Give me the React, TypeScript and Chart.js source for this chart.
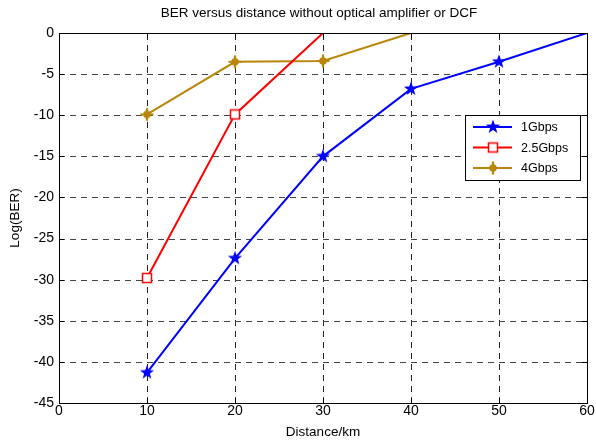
import React, { useEffect, useRef } from "react";
import { Chart, registerables } from "chart.js";

Chart.register(...registerables);

const distances = [0, 10, 20, 30, 40, 50, 60];
const seriesNames = ["1Gbps", "2.5Gbps", "4Gbps"];
const ber1G = [null, -41.3, -27.4, -15.0, -6.8, -3.5, 0];
const ber25G = [null, -29.8, -9.9, 0, null, null, null];
const ber4G = [null, -9.9, -3.5, -3.4, 0, null, null];
const seriesColors = ["#0000ff", "#ff0000", "#b8860b"];
const chartTitle = "BER versus distance without optical amplifier or DCF";
const xTitle = "Distance/km";
const yTitle = "Log(BER)";

const FONT = "'Liberation Sans', Arial, sans-serif";

function makeMarker(kind: string, color: string): HTMLCanvasElement {
  const c = document.createElement("canvas");
  const s = 16;
  c.width = s;
  c.height = s;
  const ctx = c.getContext("2d")!;
  const cx = s / 2, cy = s / 2;
  if (kind === "pentagram") {
    ctx.beginPath();
    const R = 7.5, r = 3.0;
    for (let i = 0; i < 10; i++) {
      const a = -Math.PI / 2 + (i * Math.PI) / 5;
      const rad = i % 2 === 0 ? R : r;
      const x = cx + rad * Math.cos(a), y = cy + rad * Math.sin(a);
      if (i === 0) ctx.moveTo(x, y); else ctx.lineTo(x, y);
    }
    ctx.closePath();
    ctx.fillStyle = color;
    ctx.fill();
  } else if (kind === "square") {
    ctx.strokeStyle = color;
    ctx.lineWidth = 1.5;
    ctx.fillStyle = "#ffffff";
    ctx.fillRect(cx - 4.5, cy - 4.5, 9, 9);
    ctx.strokeRect(cx - 4.5, cy - 4.5, 9, 9);
  } else {
    ctx.fillStyle = color;
    ctx.beginPath();
    ctx.arc(cx, cy, 3.8, 0, Math.PI * 2);
    ctx.fill();
    ctx.strokeStyle = color;
    ctx.lineWidth = 2.2;
    ctx.beginPath();
    ctx.moveTo(cx, cy - 6.5); ctx.lineTo(cx, cy + 6.5);
    ctx.moveTo(cx - 6.5, cy); ctx.lineTo(cx + 6.5, cy);
    ctx.stroke();
  }
  return c;
}

export default function App() {
  const ref = useRef<HTMLCanvasElement | null>(null);

  useEffect(() => {
    document.body.style.margin = "0";
    const canvas = ref.current!;
    const markers = [
      makeMarker("pentagram", seriesColors[0]),
      makeMarker("square", seriesColors[1]),
      makeMarker("blob", seriesColors[2]),
    ];
    const data = [ber1G, ber25G, ber4G];

    const gridPlugin = {
      id: "dashgrid",
      beforeDatasetsDraw(chart: any) {
        const ctx = chart.ctx;
        const a = chart.chartArea;
        const xs = chart.scales.x, ys = chart.scales.y;
        ctx.save();
        ctx.lineWidth = 1;
        ctx.setLineDash([6, 5]);
        ctx.strokeStyle = "#222";
        ctx.beginPath();
        xs.ticks.forEach((t: any) => {
          const px = Math.round(xs.getPixelForValue(t.value)) + 0.5;
          ctx.moveTo(px, a.bottom); ctx.lineTo(px, a.top);
        });
        ctx.stroke();
        ctx.strokeStyle = "#444";
        ctx.beginPath();
        ys.ticks.forEach((t: any) => {
          const py = Math.round(ys.getPixelForValue(t.value)) + 0.5;
          ctx.moveTo(a.left, py); ctx.lineTo(a.right, py);
        });
        ctx.stroke();
        ctx.restore();
      },
    };

    const framePlugin = {
      id: "frame",
      afterDraw(chart: any) {
        const ctx = chart.ctx;
        const a = chart.chartArea;
        ctx.save();
        ctx.strokeStyle = "#000";
        ctx.lineWidth = 1;
        ctx.setLineDash([]);
        ctx.strokeRect(Math.round(a.left) + 0.5, Math.round(a.top) + 0.5, Math.round(a.right - a.left), Math.round(a.bottom - a.top));
        const xs = chart.scales.x, ys = chart.scales.y;
        ctx.beginPath();
        xs.ticks.forEach((t: any) => {
          const px = Math.round(xs.getPixelForValue(t.value)) + 0.5;
          ctx.moveTo(px, a.bottom); ctx.lineTo(px, a.bottom - 5);
          ctx.moveTo(px, a.top); ctx.lineTo(px, a.top + 5);
        });
        ys.ticks.forEach((t: any) => {
          const py = Math.round(ys.getPixelForValue(t.value)) + 0.5;
          ctx.moveTo(a.left, py); ctx.lineTo(a.left + 5, py);
          ctx.moveTo(a.right, py); ctx.lineTo(a.right - 5, py);
        });
        ctx.stroke();

        ctx.fillStyle = "#000";
        ctx.font = `13.5px ${FONT}`;
        ctx.textAlign = "center";
        ctx.textBaseline = "middle";
        ctx.fillText(chartTitle, (a.left + a.right) / 2 - 4, 13);
        ctx.fillText(xTitle, (a.left + a.right) / 2, 432);
        ctx.save();
        ctx.translate(15, (a.top + a.bottom) / 2);
        ctx.rotate(-Math.PI / 2);
        ctx.fillText(yTitle, 0, 0);
        ctx.restore();

        // legend
        const lw = 115, lh = 65;
        const lx = a.right - lw - 7, ly = a.top + 82;
        ctx.fillStyle = "#fff";
        ctx.fillRect(lx, ly, lw, lh);
        ctx.strokeStyle = "#000";
        ctx.lineWidth = 1;
        ctx.strokeRect(lx + 0.5, ly + 0.5, lw, lh);
        chart.data.datasets.forEach((ds: any, i: number) => {
          const yy = ly + 12 + i * 20.5;
          ctx.strokeStyle = ds.borderColor;
          ctx.lineWidth = 2;
          ctx.beginPath();
          ctx.moveTo(lx + 8, yy); ctx.lineTo(lx + 47, yy);
          ctx.stroke();
          const m = markers[i];
          ctx.drawImage(m, lx + 28 - m.width / 2, yy - m.height / 2);
          ctx.fillStyle = "#000";
          ctx.font = `12.5px ${FONT}`;
          ctx.textAlign = "left";
          ctx.fillText(ds.label, lx + 56, yy + 1);
        });
        ctx.restore();
      },
    };

    const chart = new Chart(canvas, {
      type: "line",
      data: {
        labels: distances,
        datasets: seriesNames.map((name, i) => ({
          label: name,
          data: distances.map((d, j) => ({ x: d, y: data[i][j] as any })),
          borderColor: seriesColors[i],
          backgroundColor: seriesColors[i],
          borderWidth: 2,
          pointStyle: markers[i] as any,
          pointRadius: (c: any) => (c.raw && c.raw.y === 0 ? 0 : 6),
          spanGaps: false,
          tension: 0,
        })),
      },
      options: {
        animation: false,
        responsive: false,
        devicePixelRatio: 1,
        layout: { padding: { top: 33, right: 9, left: 0, bottom: 0 } },
        plugins: {
          legend: { display: false },
          title: { display: false },
          tooltip: { enabled: false },
        },
        scales: {
          x: {
            type: "linear",
            min: 0,
            max: 60,
            ticks: {
              stepSize: 10,
              color: "#000",
              font: { family: FONT, size: 14 },
              padding: 0,
              maxRotation: 0,
            },
            grid: { display: false, drawTicks: false, tickLength: 0 },
            border: { display: false },
            afterFit: (s: any) => { s.height = 41; },
          },
          y: {
            type: "linear",
            min: -45,
            max: 0,
            ticks: {
              stepSize: 5,
              color: "#000",
              font: { family: FONT, size: 14 },
              padding: 5,
            },
            grid: { display: false, drawTicks: false, tickLength: 0 },
            border: { display: false },
            afterFit: (s: any) => { s.width = 59; },
          },
        },
      },
      plugins: [gridPlugin, framePlugin],
    });
    return () => chart.destroy();
  }, []);

  return <canvas ref={ref} width={596} height={444} style={{ display: "block" }} />;
}
